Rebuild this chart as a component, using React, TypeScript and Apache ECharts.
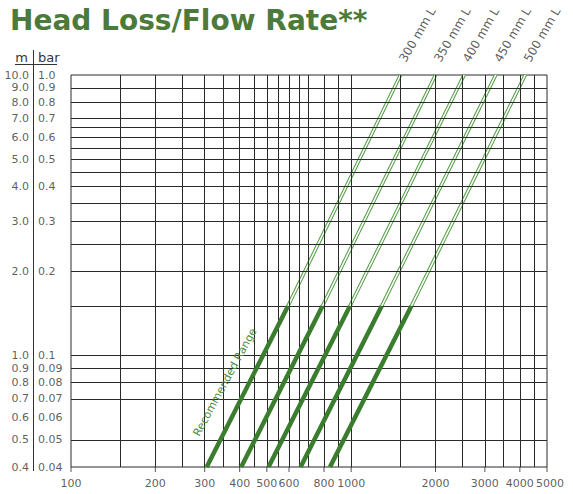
import React, { useEffect, useRef } from 'react';
import * as echarts from 'echarts';

// ---- data ----
const pipeNames = ['300 mm L', '350 mm L', '400 mm L', '450 mm L', '500 mm L'];
// flow rate where each pipe line meets 0.04 bar, 0.15 bar (end of recommended range) and 1.0 bar
const flowAtLowHead = [305, 405, 507, 660, 840];
const flowAtRangeEnd = [595, 790, 990, 1285, 1640];
const flowAtTopHead = [1500, 2000, 2530, 3280, 4180];
const lowHeadBar = 0.04;
const rangeEndBar = 0.15;
const topHeadBar = 1.0;

const xTickValues = [100, 200, 300, 400, 500, 600, 800, 1000, 2000, 3000, 4000, 5000];
const xGridValues = [150, 200, 250, 300, 350, 400, 450, 500, 550, 600, 650, 700, 800, 900, 1000, 1500, 2000, 2500, 3000, 3500, 4000, 4500];
const yTickBar = [1.0, 0.9, 0.8, 0.7, 0.6, 0.5, 0.4, 0.3, 0.2, 0.1, 0.09, 0.08, 0.07, 0.06, 0.05, 0.04];
const yTickBarLabels = ['1.0', '0.9', '0.8', '0.7', '0.6', '0.5', '0.4', '0.3', '0.2', '0.1', '0.09', '0.08', '0.07', '0.06', '0.05', '0.04'];
const yTickMLabels = ['10.0', '9.0', '8.0', '7.0', '6.0', '5.0', '4.0', '3.0', '2.0', '1.0', '0.9', '0.8', '0.7', '0.6', '0.5', '0.4'];
const yGridValues = [0.05, 0.07, 0.08, 0.09, 0.1, 0.15, 0.2, 0.25, 0.3, 0.35, 0.4, 0.45, 0.5, 0.55, 0.6, 0.65, 0.7, 0.8, 0.9];

const FONT = '"DejaVu Sans", Verdana, sans-serif';
const TEXT = '#333333';
const GRID = '#2a2a2a';
const GREEN_THICK = '#3a7d2e';
const GREEN_THIN = '#4f9a40';
const TITLE_GREEN = '#4b7a3a';

export default function App() {
  const ref = useRef<HTMLDivElement>(null);

  useEffect(() => {
    document.body.style.margin = '0';
    const chart = echarts.init(ref.current!, null, { renderer: 'svg' });

    const pipeSeries: any[] = [];
    pipeNames.forEach((name, i) => {
      pipeSeries.push({
        type: 'line',
        name: name + ' recommended',
        data: [[flowAtLowHead[i], lowHeadBar], [flowAtRangeEnd[i], rangeEndBar]],
        symbol: 'none',
        silent: true,
        z: 5,
        lineStyle: { color: GREEN_THICK, width: 4.5 },
      });
      pipeSeries.push({
        type: 'line',
        name: name + ' outline',
        data: [[flowAtRangeEnd[i], rangeEndBar], [flowAtTopHead[i], topHeadBar]],
        symbol: 'none',
        silent: true,
        z: 3,
        lineStyle: { color: GREEN_THIN, width: 3.6 },
      });
      pipeSeries.push({
        type: 'line',
        name: name + ' inner',
        data: [[flowAtRangeEnd[i], rangeEndBar], [flowAtTopHead[i], topHeadBar]],
        symbol: 'none',
        silent: true,
        z: 4,
        lineStyle: { color: '#ffffff', width: 1.6 },
      });
    });

    const option: any = {
      animation: false,
      title: {
        text: 'Head Loss/Flow Rate**',
        left: 5,
        top: 1,
        textStyle: { fontFamily: FONT, fontSize: 28, fontWeight: 'bold', color: TITLE_GREEN },
      },
      grid: {
        left: 71,
        top: 75,
        width: 476,
        height: 392,
        show: true,
        borderColor: GRID,
        borderWidth: 1,
        backgroundColor: 'transparent',
      },
      xAxis: {
        type: 'log',
        logBase: 10,
        min: 100,
        max: 5000,
        axisLine: { show: false },
        axisTick: { show: false },
        axisLabel: { show: false },
        splitLine: { show: false },
      },
      yAxis: {
        type: 'log',
        logBase: 10,
        min: 0.04,
        max: 1.0,
        axisLine: { show: false },
        axisTick: { show: false },
        axisLabel: { show: false },
        splitLine: { show: false },
      },
      graphic: [
        { type: 'text', x: 28, y: 57, silent: true, style: { text: 'm', align: 'right', verticalAlign: 'middle', fontFamily: FONT, fontSize: 13, fill: TEXT } },
        { type: 'text', x: 38, y: 57, silent: true, style: { text: 'bar', align: 'left', verticalAlign: 'middle', fontFamily: FONT, fontSize: 13, fill: TEXT } },
        { type: 'line', silent: true, shape: { x1: 15, y1: 64.5, x2: 57, y2: 64.5 }, style: { stroke: TEXT, lineWidth: 1 } },
        { type: 'line', silent: true, shape: { x1: 33.5, y1: 50, x2: 33.5, y2: 471 }, style: { stroke: TEXT, lineWidth: 1 } },
        {
          type: 'text', x: 201, y: 438, rotation: 1.073, silent: true, z: 10,
          style: { text: 'Recommended Range', align: 'left', verticalAlign: 'bottom', fontFamily: FONT, fontSize: 11, fill: '#4a8a3a' },
        },
      ],
      series: [
        {
          type: 'line',
          name: 'grid lines',
          data: [],
          z: 1,
          silent: true,
          markLine: {
            silent: true,
            symbol: 'none',
            animation: false,
            label: { show: false },
            emphasis: { disabled: true },
            lineStyle: { color: GRID, width: 1, type: 'solid' },
            data: [
              ...xGridValues.map((v) => ({ xAxis: v })),
              ...yGridValues.map((v) => ({ yAxis: v })),
            ],
          },
        },
        ...pipeSeries,
        {
          type: 'scatter',
          name: 'pipe labels',
          data: pipeNames.map((n, i) => [flowAtTopHead[i], topHeadBar, n]),
          symbolSize: 0,
          clip: false,
          silent: true,
          z: 6,
          label: {
            show: true,
            formatter: (p: any) => p.value[2],
            position: [7, -11],
            align: 'left',
            verticalAlign: 'bottom',
            rotate: 60,
            fontFamily: FONT,
            fontSize: 12,
            color: TEXT,
          },
        },
        {
          type: 'scatter',
          name: 'x tick labels',
          data: xTickValues.map((v, i) =>
            i === xTickValues.length - 1
              ? { value: [v, lowHeadBar], label: { offset: [3, 0] } }
              : [v, lowHeadBar]
          ),
          symbol: 'rect',
          symbolSize: [1, 5],
          symbolOffset: [0, 2.5],
          itemStyle: { color: GRID },
          clip: false,
          silent: true,
          label: {
            show: true,
            position: 'bottom',
            distance: 6,
            formatter: (p: any) => String(p.value[0]),
            fontFamily: FONT,
            fontSize: 11,
            color: TEXT,
          },
        },
        {
          type: 'scatter',
          name: 'm labels',
          data: yTickBar.map((v, i) => [100, v, yTickMLabels[i]]),
          symbolSize: 0,
          clip: false,
          silent: true,
          label: {
            show: true,
            position: 'left',
            distance: 42,
            formatter: (p: any) => p.value[2],
            fontFamily: FONT,
            fontSize: 11,
            color: TEXT,
          },
        },
        {
          type: 'scatter',
          name: 'bar labels',
          data: yTickBar.map((v, i) => [100, v, yTickBarLabels[i]]),
          symbolSize: 0,
          clip: false,
          silent: true,
          label: {
            show: true,
            position: [-33, 0],
            align: 'left',
            verticalAlign: 'middle',
            formatter: (p: any) => p.value[2],
            fontFamily: FONT,
            fontSize: 11,
            color: TEXT,
          },
        },
      ],
    };

    chart.setOption(option);
    return () => chart.dispose();
  }, []);

  return <div ref={ref} style={{ position: 'absolute', left: 0, top: 0, width: 573, height: 494 }} />;
}
